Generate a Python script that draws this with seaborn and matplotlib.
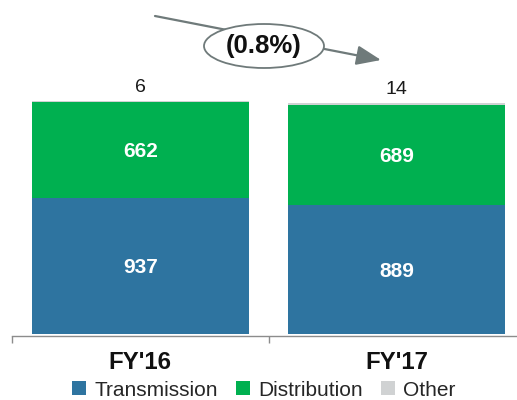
import matplotlib
matplotlib.use("Agg")
import matplotlib.pyplot as plt
from matplotlib.patches import Ellipse, FancyArrowPatch, Patch
import seaborn as sns
import pandas as pd
import numpy as np

# ---- data ----
categories = ["FY'16", "FY'17"]
transmission = [937, 889]
distribution = [662, 689]
other = [6, 14]
change_label = "(0.8%)"
series_names = ["Transmission", "Distribution", "Other"]

# ---- styles ----
c_trans = "#2E74A0"
c_dist = "#00B050"
c_other = "#D0D2D3"
c_arrow = "#6F7A7A"

sns.set_theme(style="white")
plt.rcParams['font.family'] = ['Liberation Sans', 'DejaVu Sans']

W, H = 517, 400
fig = plt.figure(figsize=(W / 100, H / 100), dpi=100)
ax = fig.add_axes([12 / W, 1 - 336 / H, 513 / W, 336 / H])

t = np.array(transmission)
d = np.array(distribution)
o = np.array(other)
df = pd.DataFrame({
    "cat": categories,
    "trans": t,
    "td": t + d,
    "total": t + d + o,
})

bw = 0.846
sns.barplot(data=df, x="cat", y="total", color=c_other, width=bw, saturation=1,
            ax=ax, linewidth=0)
sns.barplot(data=df, x="cat", y="td", color=c_dist, width=bw, saturation=1,
            ax=ax, linewidth=0)
sns.barplot(data=df, x="cat", y="trans", color=c_trans, width=bw, saturation=1,
            ax=ax, linewidth=0)

ax.set_xlim(-0.5, 1.5)
ax.set_ylim(-11.7, 2297)

# segment value labels
for i in range(len(categories)):
    ax.annotate(f"{t[i]}", xy=(i, t[i] / 2), xytext=(0, -1.2),
                textcoords="offset points", ha="center", va="center",
                color="white", fontsize=15, fontweight="bold")
    ax.annotate(f"{d[i]}", xy=(i, t[i] + d[i] / 2), xytext=(0, -1.2),
                textcoords="offset points", ha="center", va="center",
                color="white", fontsize=15, fontweight="bold")
    ax.annotate(f"{o[i]}", xy=(i, t[i] + d[i] + o[i]), xytext=(0, 6),
                textcoords="offset points", ha="center", va="baseline",
                fontsize=14, color="#1a1a1a")

# axes styling
for s in ["left", "top", "right"]:
    ax.spines[s].set_visible(False)
ax.spines["bottom"].set_color("#8C8C8C")
ax.spines["bottom"].set_linewidth(1.0)
ax.set_yticks([])
ax.set_xlabel("")
ax.set_ylabel("")
ax.set_xticks([0, 1])
ax.set_xticklabels(categories, fontsize=17.3, fontweight="bold", color="#111111")
ax.tick_params(axis="x", which="major", length=0, pad=11)
ax.set_xticks([-0.5, 0.5, 1.5], minor=True)
ax.tick_params(axis="x", which="minor", length=5, width=1.0, color="#8C8C8C",
               bottom=True)

# legend
handles = [Patch(facecolor=c, edgecolor="none") for c in (c_trans, c_dist, c_other)]
fig.legend(handles, series_names, loc="center", ncol=3,
           bbox_to_anchor=(264 / W, 1 - 390 / H), frameon=False,
           fontsize=15, handlelength=0.68, handleheight=0.68,
           handletextpad=0.4, columnspacing=0.85, borderaxespad=0,
           borderpad=0)

# change arrow with ellipse
def fp(x, y):
    return (x / W, 1 - y / H)

arrow = FancyArrowPatch(fp(155, 16), fp(381, 60), transform=fig.transFigure,
                        arrowstyle="-|>,head_length=1.5,head_width=0.6",
                        mutation_scale=10, color=c_arrow, lw=1.6, zorder=5,
                        shrinkA=0, shrinkB=0)
fig.add_artist(arrow)
ell = Ellipse(fp(264, 46), width=120 / W, height=44 / H,
              transform=fig.transFigure, facecolor="white",
              edgecolor=c_arrow, lw=1.3, zorder=6)
fig.add_artist(ell)
fig.text(264 / W, 1 - 46 / H, change_label, ha="center", va="center",
         fontsize=18.5, fontweight="bold", color="#111111", zorder=7)

fig.savefig("out.png", dpi=100)
